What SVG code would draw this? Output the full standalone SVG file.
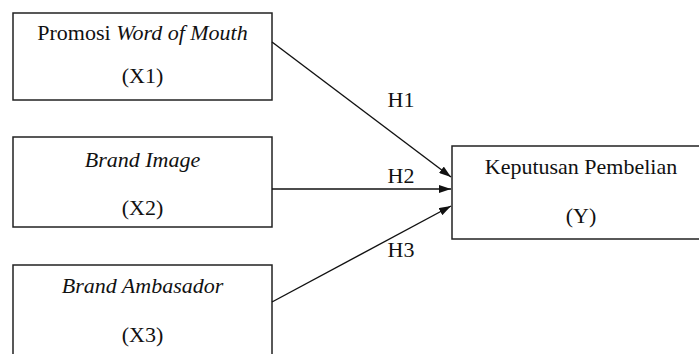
<svg xmlns="http://www.w3.org/2000/svg" width="699" height="354" viewBox="0 0 699 354">
<style>
.box{fill:#fff;stroke:#222;stroke-width:1.5}
.t{font-size:22px;fill:#111;text-anchor:middle}
.i{font-style:italic}
.c{stroke:#111;stroke-width:1.4;fill:none;marker-end:url(#ah)}
</style>
<defs>
<marker id="ah" viewBox="0 0 12 8" refX="12" refY="4" markerWidth="12" markerHeight="8" markerUnits="userSpaceOnUse" orient="auto">
<path d="M0,0 L12,4 L0,8 Z" fill="#111"/>
</marker>
</defs>
<rect width="699" height="354" fill="#fff"/>
<g font-family="'Liberation Serif', 'Times New Roman', 'DejaVu Serif', serif">
<g id="x1">
<rect class="box" x="13" y="13" width="259" height="87"/>
<text class="t" x="142.5" y="40">Promosi <tspan class="i">Word of Mouth</tspan></text>
<text class="t" x="142.5" y="83">(X1)</text>
</g>
<g id="x2">
<rect class="box" x="13" y="137" width="259" height="90"/>
<text class="t i" x="142.5" y="167">Brand Image</text>
<text class="t" x="142.5" y="215">(X2)</text>
</g>
<g id="x3">
<rect class="box" x="13" y="265" width="259" height="100"/>
<text class="t i" x="142.5" y="293">Brand Ambasador</text>
<text class="t" x="142.5" y="342">(X3)</text>
</g>
<g id="y">
<rect class="box" x="452" y="146" width="260" height="93"/>
<text class="t" x="581" y="174">Keputusan Pembelian</text>
<text class="t" x="581" y="223">(Y)</text>
</g>
<g id="connectors">
<line class="c" x1="272" y1="42" x2="451" y2="177"/>
<line class="c" x1="272" y1="189" x2="451" y2="189"/>
<line class="c" x1="272" y1="302" x2="451" y2="206"/>
<text class="t" x="401" y="107">H1</text>
<text class="t" x="401" y="183">H2</text>
<text class="t" x="401" y="257">H3</text>
</g>
</g>
</svg>
